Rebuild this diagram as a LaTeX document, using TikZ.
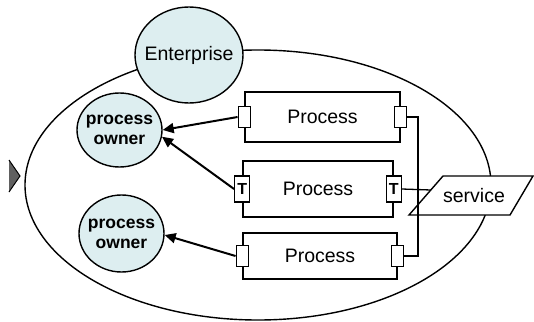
\documentclass[tikz,border=0pt]{standalone}
\usepackage{fontspec}
\setmainfont{Liberation Sans}
\usetikzlibrary{arrows.meta,shapes.geometric}
\definecolor{ownerfill}{RGB}{221,238,240}
\definecolor{chevron}{RGB}{96,96,96}
\begin{document}
\begin{tikzpicture}[x=1pt,y=-1pt,
  outline/.style={line width=1.4pt},
  bubble/.style={ellipse, draw, line width=1.4pt, fill=ownerfill, inner sep=0pt},
  ownertext/.style={font=\bfseries\fontsize{17.5}{20}\selectfont},
  labelfont/.style={font=\fontsize{19.5}{22}\selectfont},
  procbox/.style={draw, line width=1.6pt, inner sep=0pt, labelfont},
  port/.style={draw, line width=1.3pt, fill=white, minimum width=12pt, minimum height=21pt, inner sep=0pt},
  tport/.style={port, minimum width=15pt, minimum height=26pt, font=\bfseries\fontsize{16}{16}\selectfont},
  wire/.style={line width=1.3pt},
  owns/.style={line width=2pt, -{Triangle[length=11pt,width=10pt]}},
]
\useasboundingbox (0,0) rectangle (534,321);

% enterprise boundary
\draw[outline] (258,185) ellipse [x radius=233, y radius=135];

% left chevron
\fill[chevron] (9,160) -- (20,176) -- (9,192) -- cycle;
\draw[line width=1pt] (9,160) -- (20,176) -- (9,192);

% enterprise
\node[bubble, minimum width=108pt, minimum height=96pt, labelfont]
  (ent) at (189,55) {\makebox[0pt]{Enterprise}};

% process owners
\node[bubble, minimum width=85pt, minimum height=74pt, ownertext]
  (po1) at (119.5,130) {\makebox[0pt]{\parbox{80pt}{\centering process\\owner}}};
\node[bubble, minimum width=85pt, minimum height=77pt, ownertext]
  (po2) at (121.5,233.5) {\makebox[0pt]{\parbox{80pt}{\centering process\\owner}}};

% processes
\node[procbox, minimum width=155pt, minimum height=50pt] (b1) at (322.5,117) {Process};
\node[procbox, minimum width=150pt, minimum height=56pt] (b2) at (318,189) {Process};
\node[procbox, minimum width=154pt, minimum height=46pt] (b3) at (320,256) {Process};

\node[port] (p1L) at (b1.west) {};
\node[port] (p1R) at (b1.east) {};
\node[tport] (p2L) at (b2.west) {T};
\node[tport] (p2R) at (b2.east) {T};
\node[port] (p3L) at (b3.west) {};
\node[port] (p3R) at (b3.east) {};

% service
\coordinate (s1) at (409,215);
\coordinate (s2) at (443,176);
\coordinate (s3) at (533,176);
\coordinate (s4) at (510,215);
\draw[outline, fill=white] (s1) -- (s2) -- (s3) -- (s4) -- cycle;
\node[labelfont] (svc) at (474,195.5) {service};
\coordinate (svcin) at (430.8,190);

% wires
\coordinate (busB) at (418,256);
\draw[wire] (p1R.east) -| (busB) -- (p3R.east);
\draw[wire] (p2R.east) -- (svcin);

% ownership arrows
\draw[owns] (p1L.west) -- (po1.east);
\draw[owns] (p2L.west) -- (po1.-9);
\draw[owns] (p3L.west) -- (po2.-2);
\end{tikzpicture}
\end{document}
